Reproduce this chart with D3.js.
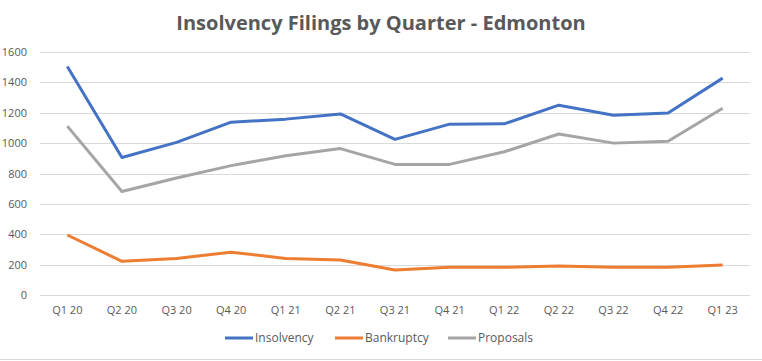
<!DOCTYPE html>
<html>
<head>
<meta charset="utf-8">
<script src="https://cdn.jsdelivr.net/npm/d3@7"></script>
<style>
  body { margin: 0; background: #fff; }
  text { font-family: "Open Sans", "Liberation Sans", sans-serif; fill: #595959; }
</style>
</head>
<body>
<div id="chart"></div>
<script>
// quarters along the x axis
var quarters = ["Q1 20", "Q2 20", "Q3 20", "Q4 20", "Q1 21", "Q2 21", "Q3 21",
  "Q4 21", "Q1 22", "Q2 22", "Q3 22", "Q4 22", "Q1 23"];

// series values
var insolvency = [1505, 905, 1005, 1138, 1158, 1192, 1025, 1125, 1127, 1250, 1183, 1198, 1428];
var bankruptcy = [395, 222, 241, 282, 241, 230, 164, 182, 182, 191, 182, 182, 197];
var proposals = [1112, 681, 770, 852, 917, 964, 860, 860, 943, 1060, 1000, 1012, 1230];

var seriesNames = ["Insolvency", "Bankruptcy", "Proposals"];
var yTicks = [0, 200, 400, 600, 800, 1000, 1200, 1400, 1600];

var svgWidth = 762;
var svgHeight = 361;

var margin = { top: 52, right: 12, bottom: 66, left: 40 };
var chartWidth = svgWidth - margin.left - margin.right;
var chartHeight = svgHeight - margin.top - margin.bottom;

var colors = d3.scaleOrdinal()
  .domain(seriesNames)
  .range(["#4472C4", "#ED7D31", "#A5A5A5"]);

var svg = d3.select("#chart").append("svg")
  .attr("width", svgWidth)
  .attr("height", svgHeight);

// thin rule along the bottom edge
svg.append("line")
  .attr("x1", 0).attr("x2", svgWidth)
  .attr("y1", 359.5).attr("y2", 359.5)
  .attr("stroke", "#d9d9d9");

// title
svg.append("text")
  .attr("x", svgWidth / 2)
  .attr("y", 30)
  .attr("text-anchor", "middle")
  .style("font-size", "20px")
  .style("font-weight", "bold")
  .text("Insolvency Filings by Quarter - Edmonton");

var chartGroup = svg.append("g")
  .attr("transform", `translate(${margin.left}, ${margin.top})`);

var xScale = d3.scaleBand()
  .domain(quarters)
  .range([0, chartWidth]);

var yScale = d3.scaleLinear()
  .domain([0, 1600])
  .range([chartHeight, 0]);

// gridlines
chartGroup.append("g")
  .selectAll("line")
  .data(yTicks)
  .enter()
  .append("line")
  .attr("x1", 0)
  .attr("x2", chartWidth)
  .attr("y1", d => Math.round(yScale(d)) + 0.5)
  .attr("y2", d => Math.round(yScale(d)) + 0.5)
  .attr("stroke", "#d9d9d9")
  .attr("stroke-width", 1);

// y axis labels
var yAxis = d3.axisLeft(yScale)
  .tickValues(yTicks)
  .tickFormat(d3.format("d"))
  .tickSize(0)
  .tickPadding(13);
var yAxisG = chartGroup.append("g").call(yAxis);
yAxisG.select(".domain").remove();
yAxisG.selectAll("text")
  .style("font-size", "11px")
  .style("font-family", "'Open Sans', sans-serif")
  .attr("fill", "#595959");

// x axis labels
var xAxis = d3.axisBottom(xScale).tickSize(0).tickPadding(11);
var xAxisG = chartGroup.append("g")
  .attr("transform", `translate(0, ${chartHeight})`)
  .call(xAxis);
xAxisG.select(".domain").remove();
xAxisG.selectAll("text")
  .style("font-size", "11px")
  .style("font-family", "'Open Sans', sans-serif")
  .attr("fill", "#595959");

// lines
var seriesData = [insolvency, bankruptcy, proposals];
var line = d3.line()
  .x((d, i) => xScale(quarters[i]) + xScale.bandwidth() / 2)
  .y(d => yScale(d));

chartGroup.selectAll(".series")
  .data(seriesData)
  .enter()
  .append("path")
  .attr("class", "series")
  .attr("d", d => line(d))
  .attr("fill", "none")
  .attr("stroke", (d, i) => colors(seriesNames[i]))
  .attr("stroke-width", 3)
  .attr("stroke-linejoin", "round");

// legend
var legendX = [225, 335, 448];
var legend = svg.append("g")
  .selectAll("g")
  .data(seriesNames)
  .enter()
  .append("g")
  .attr("transform", (d, i) => `translate(${legendX[i]}, 338)`);

legend.append("line")
  .attr("x1", 0).attr("x2", 28)
  .attr("stroke", d => colors(d))
  .attr("stroke-width", 3);

legend.append("text")
  .attr("x", 30)
  .attr("dy", "0.35em")
  .style("font-size", "12px")
  .text(d => d);
</script>
</body>
</html>
